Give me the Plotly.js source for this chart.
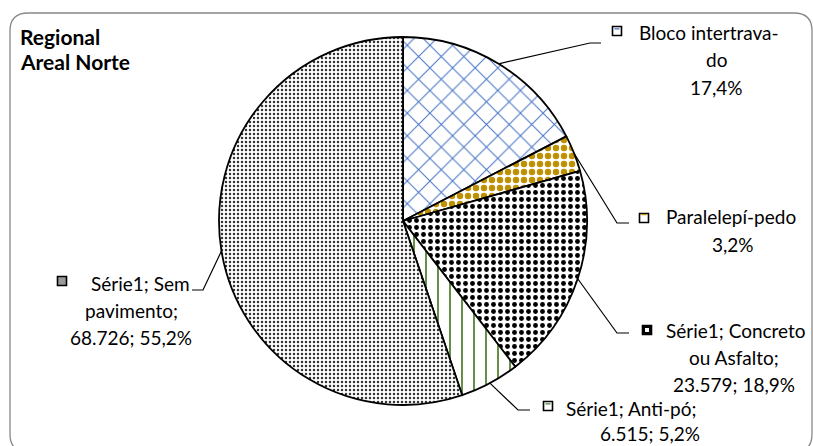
<!DOCTYPE html>
<html>
<head>
<meta charset="utf-8">
<script src="https://cdn.plot.ly/plotly-3.0.1.min.js"></script>
<style>html,body{margin:0;padding:0;background:#fff;}#chart{width:813px;height:446px;}</style>
</head>
<body>
<div id="chart"></div>
<script>
// ---- data ----
var categories = ["Bloco intertravado", "Paralelepípedo", "Concreto ou Asfalto", "Anti-pó", "Sem pavimento"];
var values = [21.65, 4.0, 23.579, 6.515, 68.726];
var labelLines = [
  ["Bloco intertrava-", "do", "17,4%"],
  ["Paralelepí-pedo", "3,2%"],
  ["Série1; Concreto", "ou Asfalto;", "23.579; 18,9%"],
  ["Série1; Anti-pó;", "6.515; 5,2%"],
  ["Série1; Sem", "pavimento;", "68.726; 55,2%"]
];
var chartTitle = ["Regional", "Areal Norte"];

// ---- styles ----
var W = 813, H = 446;
var cx = 403, cy = 221, R = 184;
var fg = ["#4472C4", "#BF9000", "#000000", "#548235", "#333333"];
var shapesP = ["x", ".", ".", "|", "."];
var sizesP = [16, 8, 7, 12, 4];
var solP = [0.12, 0.5, 0.38, 0.15, 0.3];
// label placement (px): text centre x, first line y, first-line start x, key, leader elbow, line spacing
var lab = [
  {tx: 716, ty: 33, sx: 637, kx: 617, ky: 31, ex: 590, ey: 43, hx: 601, ls: 27},
  {tx: 733, ty: 217, sx: 664, kx: 644, ky: 218, ex: 617, ey: 223, hx: 629, ls: 27},
  {tx: 734, ty: 330, sx: 664, kx: 647, ky: 330, ex: 617, ey: 333, hx: 629, ls: 27},
  {tx: 650, ty: 408, sx: 564, kx: 548, ky: 406, ex: 518, ey: 410, hx: 530, ls: 25},
  {tx: 131, ty: 283, sx: 89, kx: 62, ky: 281, ex: 203, ey: 290, hx: 192, ls: 27}
];
var keyFill = ["#ffffff", "#ffffff", "#000000", "#ffffff", "#9a9a9a"];
var FONT = "Lato, 'Liberation Sans', sans-serif";
var FS = 19;

function px(x){ return x / W; }
function py(y){ return 1 - y / H; }

var total = values.reduce(function(a,b){return a+b;}, 0);
var shapes = [];
var annotations = [];

// chart border (rounded)
var rr = 18, bx0 = 10, by0 = 13, bx1 = 812, by1 = 452;
shapes.push({type: "path", xref: "paper", yref: "paper", layer: "below",
  path: "M " + px(bx0) + "," + py(by0 + rr) +
        " Q " + px(bx0) + "," + py(by0) + " " + px(bx0 + rr) + "," + py(by0) +
        " L " + px(bx1 - rr) + "," + py(by0) +
        " Q " + px(bx1) + "," + py(by0) + " " + px(bx1) + "," + py(by0 + rr) +
        " L " + px(bx1) + "," + py(by1 - rr) +
        " Q " + px(bx1) + "," + py(by1) + " " + px(bx1 - rr) + "," + py(by1) +
        " L " + px(bx0 + rr) + "," + py(by1) +
        " Q " + px(bx0) + "," + py(by1) + " " + px(bx0) + "," + py(by1 - rr) + " Z",
  line: {color: "#888888", width: 1.3}, fillcolor: "rgba(0,0,0,0)"});

var cum = 0;
for (var i = 0; i < values.length; i++) {
  var mid = (cum + values[i] / 2) / total;
  cum += values[i];
  var ang = mid * 2 * Math.PI;
  var axp = cx + R * Math.sin(ang), ayp = cy - R * Math.cos(ang);
  var L = lab[i];
  // leader line
  shapes.push({type: "path", xref: "paper", yref: "paper",
    path: "M " + px(axp) + "," + py(ayp) + " L " + px(L.ex) + "," + py(L.ey) + " L " + px(L.hx) + "," + py(L.ey),
    line: {color: "#000000", width: 1.2}});
  // legend key
  shapes.push({type: "rect", xref: "paper", yref: "paper",
    x0: px(L.kx - 4.5), x1: px(L.kx + 4.5), y0: py(L.ky + 4.5), y1: py(L.ky - 4.5),
    line: {color: "#000000", width: 1.6}, fillcolor: keyFill[i]});
  if (i === 1 || i === 3 || i === 0) {
    shapes.push({type: "rect", xref: "paper", yref: "paper",
      x0: px(L.kx - 2.5), x1: px(L.kx + 2.5), y0: py(L.ky - (i===1?2.8:1.5)), y1: py(L.ky - (i===1?2.8:1.5) - 1.3),
      line: {width: 0}, fillcolor: fg[i]});
  }
  if (i === 2) {
    shapes.push({type: "rect", xref: "paper", yref: "paper",
      x0: px(L.kx - 2), x1: px(L.kx + 2), y0: py(L.ky + 2), y1: py(L.ky - 2),
      line: {width: 0}, fillcolor: "#ffffff"});
  }
  // label text lines
  for (var j = 0; j < labelLines[i].length; j++) {
    var isFirst = (j === 0);
    annotations.push({xref: "paper", yref: "paper",
      x: px(isFirst ? L.sx : L.tx), y: py(L.ty + j * L.ls),
      xanchor: isFirst ? "left" : "center", yanchor: "middle",
      text: labelLines[i][j], showarrow: false,
      font: {family: FONT, size: FS, color: "#000000"}});
  }
}

// title
for (var k = 0; k < chartTitle.length; k++) {
  annotations.push({xref: "paper", yref: "paper", x: px(18), y: py(36 + k * 25),
    xanchor: "left", yanchor: "middle", showarrow: false,
    text: "<b>" + chartTitle[k] + "</b>",
    font: {family: FONT, size: 21, color: "#000000"}});
}

var trace = {
  type: "pie",
  labels: categories,
  values: values,
  sort: false,
  direction: "clockwise",
  rotation: 0,
  textinfo: "none",
  hoverinfo: "label+value+percent",
  domain: {x: [px(cx - R), px(cx + R)], y: [py(cy + R), py(cy - R)]},
  marker: {
    colors: ["#ffffff", "#ffffff", "#ffffff", "#ffffff", "#ffffff"],
    line: {color: "#000000", width: 1.8},
    pattern: {shape: shapesP, fgcolor: fg, fgopacity: 1, bgcolor: ["#ffffff", "#ffffff", "#ffffff", "#ffffff", "#ffffff"],
              size: sizesP, solidity: solP, fillmode: "replace"}
  },
  showlegend: false
};

var layout = {
  width: W, height: H,
  margin: {l: 0, r: 0, t: 0, b: 0},
  paper_bgcolor: "#ffffff",
  showlegend: false,
  shapes: shapes,
  annotations: annotations
};

Plotly.newPlot("chart", [trace], layout, {displayModeBar: false, staticPlot: true});
</script>
</body>
</html>
